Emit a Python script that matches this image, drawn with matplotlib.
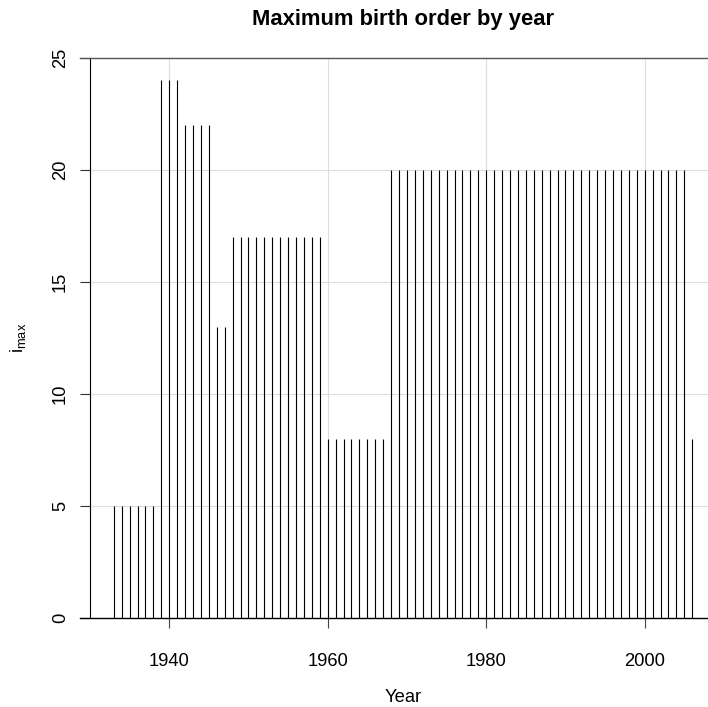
import matplotlib

matplotlib.use("Agg")
import matplotlib.pyplot as plt
import numpy as np

plt.rcParams["font.family"] = ["Liberation Sans", "DejaVu Sans"]

# maximum birth order observed in each year
YEARS = list(range(1933, 2007))
IMAX = (
    [5] * 6        # 1933-1938
    + [24] * 3     # 1939-1941
    + [22] * 4     # 1942-1945
    + [13] * 2     # 1946-1947
    + [17] * 12    # 1948-1959
    + [8] * 8      # 1960-1967
    + [20] * 38    # 1968-2005
    + [8]          # 2006
)
X_TICKS = [1940, 1960, 1980, 2000]
Y_TICKS = [0, 5, 10, 15, 20, 25]


def main():
    fig = plt.figure(figsize=(7.08, 7.07), dpi=100)
    ax = fig.add_axes([90 / 708, 89 / 707, 626 / 708, 560 / 707])

    ax.set_xlim(1930, 2009)
    ax.set_ylim(0, 25)

    for x in X_TICKS:
        ax.axvline(x, color="#dddddd", lw=0.8, zorder=0)
    for y in Y_TICKS[1:-1]:
        ax.axhline(y, color="#dddddd", lw=0.8, zorder=0)

    ax.vlines(YEARS, 0, IMAX, color="black", lw=0.8, zorder=2)

    for side in ["right", "top", "bottom"]:
        ax.spines[side].set_visible(False)
    ax.spines["left"].set_linewidth(0.8)

    # top and bottom rules run from the tick stubs across the panel
    ax.plot([-10 / 626, 1.02], [1, 1], transform=ax.transAxes, color="#555555",
            lw=1.0, clip_on=False, zorder=3)
    ax.plot([-10 / 626, 1.02], [0, 0], transform=ax.transAxes, color="black",
            lw=1.0, clip_on=False, zorder=3)

    ax.set_xticks(X_TICKS)
    ax.set_yticks(Y_TICKS)
    ax.tick_params(axis="x", length=7.2, width=0.8, color="#444444",
                   labelsize=13.2, pad=18)
    ax.tick_params(axis="y", length=7.2, width=0.8, color="#333333",
                   labelsize=13.2, pad=8)
    for lab in ax.get_yticklabels():
        lab.set_rotation(90)
        lab.set_va("center")

    ax.set_xlabel("Year", fontsize=13.2, labelpad=14)
    ax.set_ylabel(r"$\mathregular{i_{max}}$", fontsize=13.2, labelpad=17)

    fig.text(403 / 708, 1 - 20 / 707, "Maximum birth order by year",
             ha="center", va="center", fontsize=15.8, fontweight="bold")

    fig.savefig("out.png", dpi=100)
    plt.close(fig)


if __name__ == "__main__":
    main()
